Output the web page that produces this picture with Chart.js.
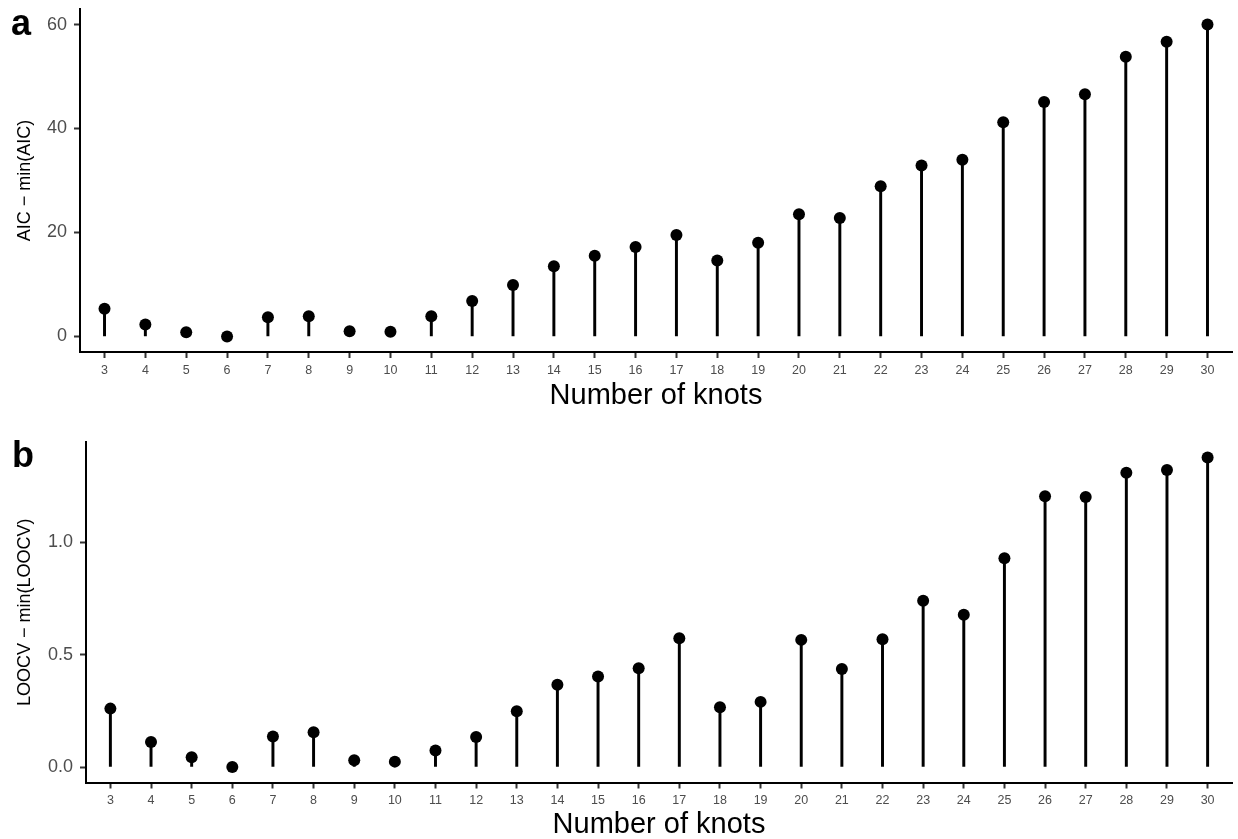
<!DOCTYPE html>
<html>
<head>
<meta charset="utf-8">
<script src="https://cdn.jsdelivr.net/npm/chart.js@4/dist/chart.umd.min.js"></script>
<style>
  html, body { margin: 0; padding: 0; background: #ffffff; }
  #wrap { position: relative; width: 1238px; height: 839px; overflow: hidden; }
  canvas { position: absolute; left: 0; }
  #aicChart { top: 0; }
  #loocvChart { top: 420px; }
</style>
</head>
<body>
<div id="wrap">
  <canvas id="aicChart" width="1238" height="420"></canvas>
  <canvas id="loocvChart" width="1238" height="419"></canvas>
</div>
<script>
// Number of knots tried for the spline fit
const knots = [3, 4, 5, 6, 7, 8, 9, 10, 11, 12, 13, 14, 15, 16, 17, 18, 19, 20, 21, 22, 23, 24, 25, 26, 27, 28, 29, 30];

// AIC relative to the best model
const aicDelta = [5.3, 2.3, 0.8, 0.0, 3.7, 3.9, 1.0, 0.9, 3.9, 6.8, 9.9, 13.5, 15.5, 17.2, 19.5, 14.6, 18.0, 23.5, 22.8, 28.9, 32.9, 34.0, 41.2, 45.1, 46.6, 53.8, 56.7, 60.0];

// Leave-one-out CV error relative to the best model
const loocvDelta = [0.260, 0.111, 0.043, 0.000, 0.136, 0.155, 0.030, 0.024, 0.074, 0.134, 0.248, 0.366, 0.403, 0.440, 0.573, 0.266, 0.290, 0.566, 0.436, 0.569, 0.740, 0.678, 0.929, 1.205, 1.202, 1.310, 1.322, 1.378];

// Tick labels
const aicTicks = [0, 20, 40, 60];
const loocvTicks = [0, 0.5, 1.0];

const FONT = '"Liberation Sans", Arial, Helvetica, sans-serif';

function panelLetter(letter, x, y) {
  return {
    id: 'panelLetter' + letter,
    afterDraw(chart) {
      const ctx = chart.ctx;
      ctx.save();
      ctx.fillStyle = '#000000';
      ctx.font = 'bold 36px ' + FONT;
      ctx.textAlign = 'left';
      ctx.textBaseline = 'alphabetic';
      ctx.fillText(letter, x, y);
      ctx.restore();
    }
  };
}

function lollipop(canvasId, values, yTicks, yTitle, yFmt, opts) {
  const vmax = Math.max(...values);
  const vmin = Math.min(0, ...values);
  const pad = 0.05 * (vmax - vmin);
  const pts = knots.map((k, i) => ({ x: k, y: values[i] }));

  return new Chart(document.getElementById(canvasId), {
    type: 'bar',
    data: {
      datasets: [
        {
          type: 'scatter',
          data: pts,
          pointRadius: 6,
          pointHoverRadius: 6,
          pointBackgroundColor: '#000000',
          pointBorderWidth: 0,
          borderColor: '#000000',
          order: 0
        },
        {
          type: 'bar',
          data: pts,
          backgroundColor: '#000000',
          borderWidth: 0,
          barThickness: 2.3,
          order: 1
        }
      ]
    },
    options: {
      responsive: false,
      devicePixelRatio: 1,
      animation: false,
      events: [],
      layout: { padding: { top: opts.top, right: 3, left: 0, bottom: opts.bottom } },
      plugins: { legend: { display: false }, tooltip: { enabled: false } },
      scales: {
        x: {
          type: 'linear',
          offset: false,
          min: 2.4,
          max: 30.6,
          afterBuildTicks(axis) { axis.ticks = knots.map(v => ({ value: v })); },
          afterFit(axis) { axis.height = opts.xHeight; axis.paddingLeft = 0; axis.paddingRight = 0; },
          border: { display: true, color: '#000000', width: 2 },
          grid: { display: true, offset: false, drawOnChartArea: false, drawTicks: true, tickLength: 6, tickColor: '#333333', tickWidth: 2 },
          ticks: {
            color: '#4D4D4D',
            font: { family: FONT, size: 12.5 },
            padding: 5,
            maxRotation: 0,
            autoSkip: false,
            callback: v => String(v)
          },
          title: {
            display: true,
            text: 'Number of knots',
            color: '#000000',
            font: { family: FONT, size: 29, lineHeight: 1 },
            padding: { top: 0, bottom: 0 }
          }
        },
        y: {
          min: vmin - pad,
          max: vmax + pad,
          afterBuildTicks(axis) { axis.ticks = yTicks.map(v => ({ value: v })); },
          afterFit(axis) { axis.width = opts.yWidth; axis.paddingTop = 0; axis.paddingBottom = 0; },
          border: { display: true, color: '#000000', width: 2 },
          grid: { display: true, drawOnChartArea: false, drawTicks: true, tickLength: 6, tickColor: '#333333', tickWidth: 2 },
          ticks: {
            color: '#4D4D4D',
            font: { family: FONT, size: 18 },
            padding: 7,
            callback: yFmt
          },
          title: {
            display: true,
            text: yTitle,
            color: '#000000',
            font: { family: FONT, size: 18, lineHeight: 1.2 },
            padding: { top: 14, bottom: 0 }
          }
        }
      }
    },
    plugins: [panelLetter(opts.letter, opts.letterX, opts.letterY)]
  });
}

lollipop('aicChart', aicDelta, aicTicks, 'AIC \u2212 min(AIC)', v => String(v),
  { top: 9, bottom: 10, xHeight: 58, yWidth: 80, letter: 'a', letterX: 11, letterY: 35 });

lollipop('loocvChart', loocvDelta, loocvTicks, 'LOOCV \u2212 min(LOOCV)', v => Number(v).toFixed(1),
  { top: 22, bottom: 0, xHeight: 56.5, yWidth: 86, letter: 'b', letterX: 12, letterY: 47 });
</script>
</body>
</html>
